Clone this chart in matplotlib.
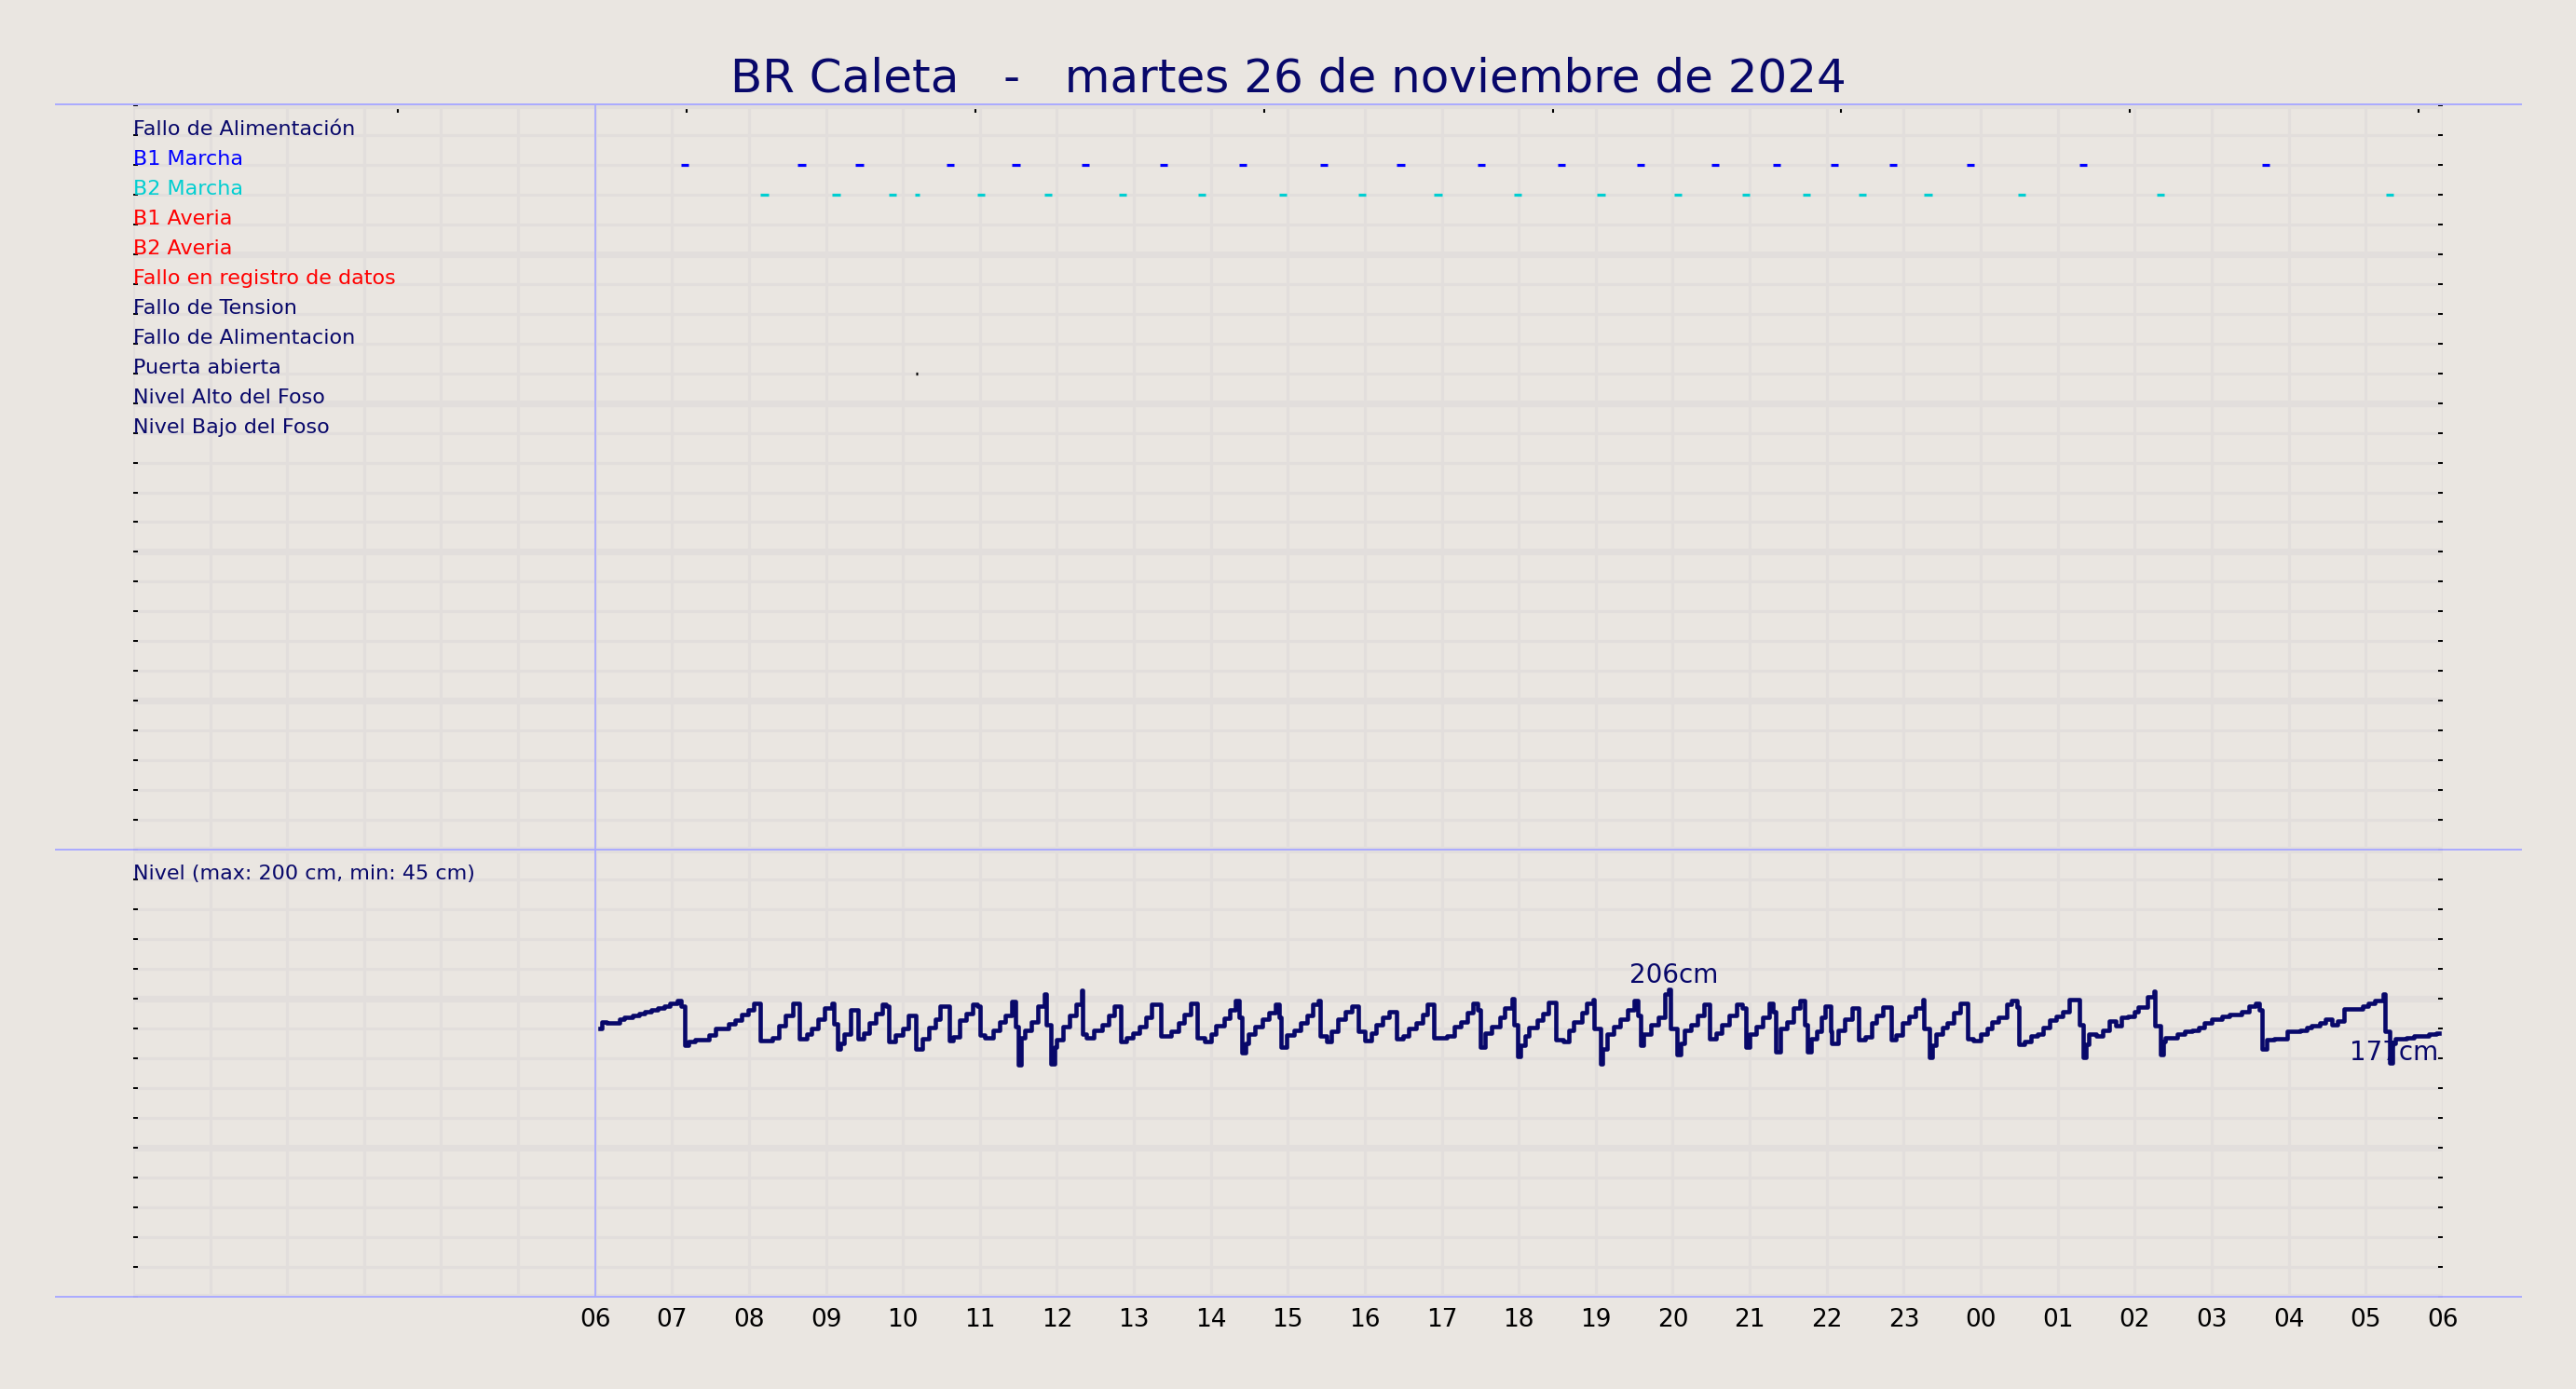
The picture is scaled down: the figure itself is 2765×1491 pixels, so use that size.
import matplotlib.pyplot as plt
from matplotlib.lines import Line2D

# colores
fondo = '#EAE6E1'
rejilla = '#E2DEDC'
azul_osc = '#08086A'
lila = '#AAAAFF'

titulo = 'BR Caleta   -   martes 26 de noviembre de 2024'

# señales (fila, texto, color)
senales = ['Fallo de Alimentación', 'B1 Marcha', 'B2 Marcha', 'B1 Averia', 'B2 Averia',
           'Fallo en registro de datos', 'Fallo de Tension', 'Fallo de Alimentacion',
           'Puerta abierta', 'Nivel Alto del Foso', 'Nivel Bajo del Foso']
colores_senal = [azul_osc, '#0000FF', '#00CED1', '#FF0000', '#FF0000', '#FF0000',
                 azul_osc, azul_osc, azul_osc, azul_osc, azul_osc]

# arranques de bombas (hora inicio, minutos)
b1_inicio = ['07:07', '08:38', '09:23', '10:34', '11:25', '12:19', '13:20', '14:22', '15:25', '16:25',
             '17:28', '18:30', '19:32', '20:30', '21:18', '22:03', '22:49', '23:49', '01:17', '03:39']
b1_min = [6] * len(b1_inicio)
b2_inicio = ['08:09', '09:05', '09:49', '10:09', '10:58', '11:50', '12:48', '13:50', '14:53', '15:55', '16:54',
             '17:56', '19:01', '20:01', '20:54', '21:41', '22:25', '23:16', '00:29', '02:17', '05:16']
b2_min = [6, 6, 6, 4, 6, 6, 6, 6, 6, 6, 6, 6, 6, 6, 6, 6, 6, 6, 6, 6, 6]
puerta_inicio = ['10:10']
puerta_min = [1.5]

# nivel del foso (cm)
nivel_hora = ['06:04', '06:05', '06:09', '06:19', '06:23', '06:29', '06:34', '06:39', '06:44', '06:49',
              '06:54', '06:58', '07:04', '07:07', '07:10', '07:13', '07:18', '07:29', '07:34', '07:44',
              '07:49', '07:54', '07:59', '08:04', '08:09', '08:18', '08:23', '08:28', '08:34', '08:39',
              '08:45', '08:49', '08:54', '08:59', '09:05', '09:06', '09:09', '09:11', '09:14', '09:19',
              '09:25', '09:29', '09:34', '09:39', '09:44', '09:47', '09:49', '09:54', '10:00', '10:04',
              '10:10', '10:15', '10:20', '10:25', '10:29', '10:36', '10:39', '10:44', '10:49', '10:54',
              '10:58', '11:00', '11:04', '11:10', '11:15', '11:20', '11:25', '11:28', '11:30', '11:32',
              '11:35', '11:40', '11:45', '11:50', '11:52', '11:55', '11:58', '12:00', '12:05', '12:10',
              '12:15', '12:19', '12:20', '12:23', '12:29', '12:35', '12:40', '12:45', '12:50', '12:54',
              '12:59', '13:04', '13:09', '13:14', '13:21', '13:29', '13:35', '13:39', '13:44', '13:49',
              '13:55', '14:00', '14:04', '14:10', '14:15', '14:19', '14:22', '14:24', '14:27', '14:29',
              '14:34', '14:40', '14:45', '14:50', '14:53', '14:55', '14:59', '15:05', '15:10', '15:15',
              '15:19', '15:24', '15:25', '15:30', '15:34', '15:39', '15:45', '15:50', '15:55', '16:00',
              '16:05', '16:09', '16:14', '16:19', '16:25', '16:30', '16:34', '16:40', '16:45', '16:49',
              '16:54', '17:04', '17:10', '17:15', '17:20', '17:24', '17:28', '17:30', '17:34', '17:39',
              '17:45', '17:49', '17:55', '17:56', '17:59', '18:01', '18:05', '18:08', '18:14', '18:19',
              '18:23', '18:29', '18:35', '18:39', '18:43', '18:49', '18:53', '18:58', '18:59', '19:04',
              '19:05', '19:09', '19:14', '19:19', '19:25', '19:30', '19:33', '19:35', '19:37', '19:43',
              '19:49', '19:54', '19:57', '19:58', '20:03', '20:06', '20:09', '20:14', '20:19', '20:24',
              '20:29', '20:34', '20:38', '20:44', '20:50', '20:54', '20:57', '21:00', '21:05', '21:10',
              '21:15', '21:18', '21:20', '21:24', '21:29', '21:34', '21:39', '21:43', '21:45', '21:48',
              '21:52', '21:56', '21:59', '22:03', '22:04', '22:09', '22:14', '22:20', '22:25', '22:30',
              '22:35', '22:39', '22:44', '22:50', '22:54', '22:59', '23:04', '23:09', '23:15', '23:16',
              '23:20', '23:22', '23:25', '23:30', '23:34', '23:39', '23:44', '23:50', '23:54', '00:00',
              '00:05', '00:09', '00:14', '00:20', '00:24', '00:28', '00:30', '00:34', '00:39', '00:44',
              '00:49', '00:54', '00:59', '01:04', '01:09', '01:17', '01:20', '01:22', '01:24', '01:30',
              '01:35', '01:40', '01:45', '01:50', '01:55', '02:00', '02:03', '02:10', '02:15', '02:16',
              '02:20', '02:22', '02:24', '02:33', '02:39', '02:45', '02:50', '02:54', '03:00', '03:08',
              '03:14', '03:23', '03:29', '03:34', '03:37', '03:39', '03:43', '03:49', '03:59', '04:09',
              '04:14', '04:18', '04:24', '04:29', '04:34', '04:38', '04:43', '04:58', '05:02', '05:07',
              '05:14', '05:15', '05:19', '05:21', '05:23', '05:32', '05:38', '05:49', '05:55', '05:57']
nivel_cm = [180, 184.5, 183.5, 186.5, 187.5, 189, 190, 191, 192.5, 194,
            195, 197, 199, 195, 169, 171, 172.5, 175.5, 180, 183,
            185.5, 189.5, 192.5, 197, 172, 174, 182, 189, 197, 173,
            176, 180, 186.5, 193.5, 197, 183, 166.5, 170, 176, 192.5,
            173, 177, 183.5, 190, 196.5, 195, 171, 175.5, 180, 188.5,
            166, 173, 180.5, 186.5, 195, 172, 174.5, 185.5, 190, 196.5,
            195, 175.5, 174, 179, 184.5, 188.5, 198, 181, 155.5, 174,
            178.5, 184.5, 195, 203, 182.5, 156, 167.5, 172.5, 181.5, 188.5,
            196, 205.5, 176, 174, 178.5, 182.5, 189, 195, 171, 174,
            177, 181.5, 187.5, 196.5, 175, 178, 184, 189.5, 197, 174,
            171, 176, 182, 187, 192.5, 199, 187.5, 163.5, 170, 176.5,
            181.5, 186.5, 190.5, 196, 187.5, 167.5, 175.5, 179, 183.5, 189,
            196, 199, 175, 171.5, 178, 186.5, 191.5, 195, 178, 172,
            177, 182.5, 187.5, 191.5, 173, 175, 180, 183.5, 189.5, 196,
            174, 175, 181.5, 184.5, 190.5, 197, 192.5, 167.5, 177, 181.5,
            187.5, 193.5, 200, 182.5, 161.5, 169, 175, 180.5, 185.5, 190,
            197.5, 172.5, 171.5, 178.5, 184.5, 190.5, 197, 199.5, 180, 156,
            166.5, 176, 181.5, 186.5, 192.5, 199, 188.5, 169, 176, 182.5,
            187.5, 203, 206, 180, 162.5, 170, 179, 182.5, 188.5, 196,
            173, 177, 182.5, 189, 196.5, 194, 167.5, 176, 181.5, 187.5,
            197, 191.5, 164.5, 180, 184.5, 193.5, 199, 182.5, 164.5, 173,
            178, 187.5, 195, 178, 170, 178.5, 186.5, 193.5, 172.5, 174.5,
            183.5, 189, 194.5, 172.5, 175.5, 183.5, 188, 193.5, 199.5, 180,
            160.5, 169, 176, 180.5, 184, 190.5, 197, 173, 172, 176,
            180, 184.5, 187.5, 196, 199, 194.5, 169.5, 171.5, 175, 176.5,
            180.5, 185.5, 188, 191.5, 199.5, 182.5, 160.5, 169.5, 176.5, 175,
            179, 185, 182, 187.5, 188, 191, 194.5, 201.5, 205, 182,
            162.5, 171, 174, 176, 178, 179, 180.5, 183.5, 186, 188,
            189.5, 191.5, 195, 197, 192.5, 166.5, 172.5, 173, 178, 179,
            180.5, 182, 183.5, 186.5, 182.5, 185, 193, 195, 197, 199,
            203, 178, 157, 170, 173, 174, 175, 176.5, 177, 177]

# ticks de arriba (horas desde las 00)
ticks_arriba = [3.44, 7.19, 10.94, 14.69, 18.44, 22.19, 25.94, 29.69]


def a_horas(hhmm):
    h, m = hhmm.split(':')
    h = int(h) + int(m) / 60
    if h < 6:
        h += 24
    return h


nivel_x = [a_horas(t) for t in nivel_hora]

fig = plt.figure(figsize=(27.65, 14.91), dpi=100, facecolor=fondo)
ax1 = fig.add_axes([0.0517, 0.3883, 0.8965, 0.5359])
ax2 = fig.add_axes([0.0517, 0.0664, 0.8965, 0.3219], sharex=ax1)

horas = list(range(0, 31))
etiquetas_h = [''] * 6 + ['%02d' % (h % 24) for h in range(6, 31)]

for ax in (ax1, ax2):
    ax.set_facecolor(fondo)
    for s in ax.spines.values():
        s.set_visible(False)
    ax.set_xlim(0, 30)
    ax.set_xticks(horas)
    ax.grid(True, axis='x', which='major', color=rejilla, lw=2.2, zorder=0)
    ax.grid(True, axis='y', which='major', color=rejilla, lw=5.2, zorder=0)
    ax.grid(True, axis='y', which='minor', color=rejilla, lw=2.2, zorder=0)
    ax.tick_params(axis='y', which='both', direction='in', left=True, right=True,
                   labelleft=False, length=3.6, width=1.4, color='black')
    ax.axvline(6, color=lila, lw=1.3, zorder=3)
    ax.set_axisbelow(True)

# panel de señales
ax1.set_ylim(25, 0)
ax1.set_yticks(range(0, 26, 5))
ax1.set_yticks(range(0, 26), minor=True)
ax1.tick_params(axis='x', length=0, labelbottom=False)

for i, (txt, col) in enumerate(zip(senales, colores_senal)):
    ax1.text(0, i + 1, txt, color=col, fontsize=16, ha='left', va='baseline', zorder=5)

for ini, dur, fila, col in [(b1_inicio, b1_min, 2, '#0000FF'),
                            (b2_inicio, b2_min, 3, '#00CED1'),
                            (puerta_inicio, puerta_min, 9, '#000000')]:
    xs = [a_horas(t) for t in ini]
    xe = [x + d / 60 for x, d in zip(xs, dur)]
    ax1.hlines([fila] * len(xs), xs, xe, colors=col, lw=2.3, capstyle='butt', zorder=4)

sec = ax1.secondary_xaxis('top')
sec.set_xticks(ticks_arriba)
sec.tick_params(direction='in', length=6, width=1.5, labeltop=False, color='black')
sec.spines['top'].set_visible(False)

# panel de nivel
ax2.set_ylim(0, 300)
ax2.set_yticks(range(0, 301, 100))
ax2.set_yticks(range(0, 301, 20), minor=True)
ax2.set_xticklabels(etiquetas_h)
ax2.tick_params(axis='x', length=0, labelsize=19, pad=8.5, colors='black')

ax2.text(0, 280, 'Nivel (max: 200 cm, min: 45 cm)', color=azul_osc, fontsize=16,
         ha='left', va='baseline')

ax2.plot(nivel_x, nivel_cm, drawstyle='steps-post', color=azul_osc, lw=3.3, zorder=4)

i_max = nivel_cm.index(max(nivel_cm))
ax2.annotate('%dcm' % round(nivel_cm[i_max]), (nivel_x[i_max], nivel_cm[i_max]),
             xytext=(5, 1), textcoords='offset pixels', ha='center', va='bottom',
             fontsize=20, color=azul_osc)
ax2.annotate('%dcm' % round(nivel_cm[-1]), (nivel_x[-1], nivel_cm[-1]),
             xytext=(0, -7), textcoords='offset pixels', ha='right', va='top',
             fontsize=20, color=azul_osc, zorder=5)

# lineas horizontales de separacion
for y in (0.9249, 0.3883, 0.0664):
    fig.add_artist(Line2D([0.0217, 0.9787], [y, y], color=lila, lw=1.4))

fig.text(0.5, 0.934, titulo, fontsize=36, color=azul_osc, ha='center', va='baseline')

fig.savefig('out.png', dpi=100, facecolor=fondo)
